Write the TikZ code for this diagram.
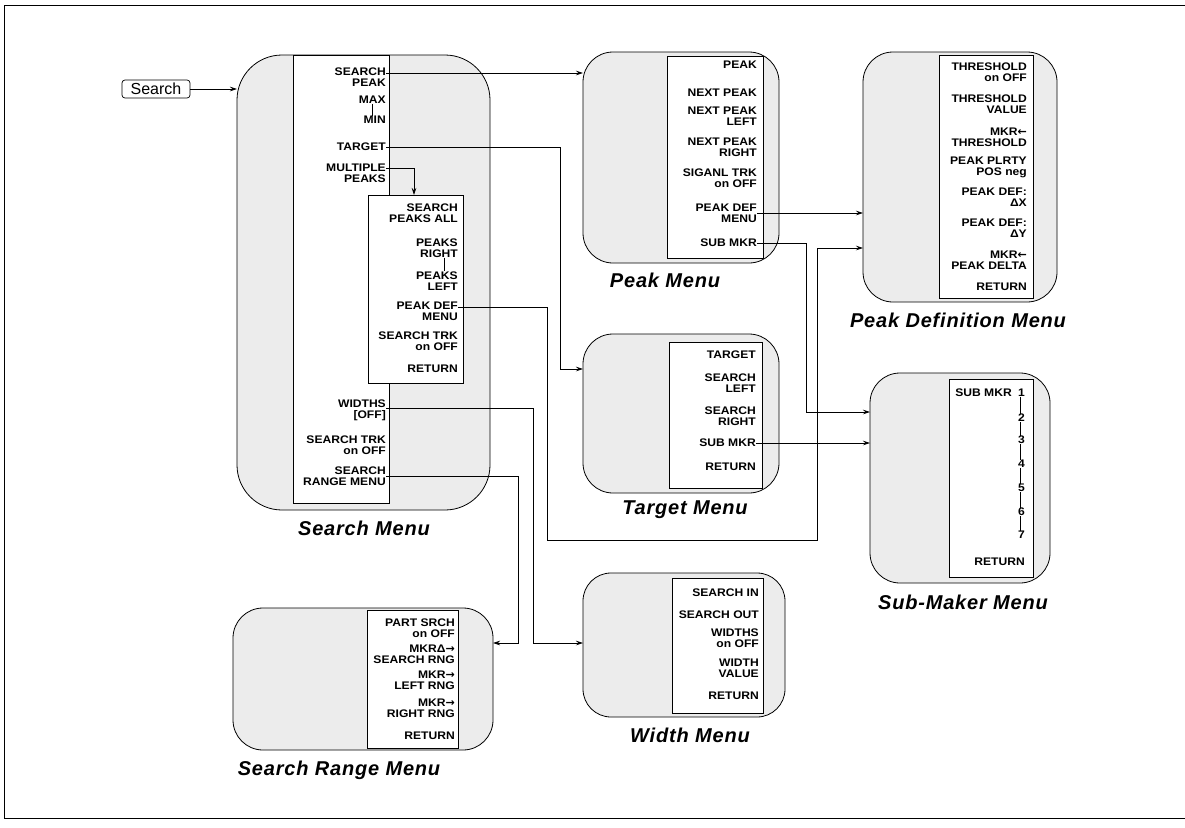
\documentclass[tikz,border=0pt]{standalone}
\usepackage{fontspec}
\setmainfont{Liberation Sans}
\newfontfamily\ttlfam{Liberation Sans}[LetterSpace=4.0]
\newfontfamily\lblfam{Liberation Sans}[FakeStretch=1.1]
\newfontfamily\arrf{DejaVu Sans}
\usetikzlibrary{arrows.meta,calc}
\newcommand\lblfont{\lblfam\fontsize{11}{11}\selectfont\bfseries}
\newcommand\ttlfont{\ttlfam\fontsize{20}{22}\selectfont\bfseries\itshape}
\newcommand\la{{\arrf\bfseries ←}}
\newcommand\ra{{\arrf\bfseries →}}
\begin{document}
\begin{tikzpicture}[x=1pt,y=-1pt,
  mbox/.style={draw, fill=gray!15, line width=0.8pt, rounded corners=#1, inner sep=0pt, outer sep=0pt},
  mbox/.default=30pt,
  panel/.style={draw, fill=white, line width=0.7pt, inner sep=0pt, outer sep=0pt},
  lbl/.style={font=\lblfont, align=right, inner sep=0pt, anchor=east},
  ttl/.style={font=\ttlfont, inner sep=0pt},
  conn/.style={draw, line width=0.7pt, -{Stealth[length=7pt,width=4.5pt]}},
  link/.style={draw, line width=0.6pt},
  btnstyle/.style={draw, rounded corners=3pt, line width=0.7pt, font=\fontsize{16}{16}\selectfont, inner sep=1.5pt, minimum width=68pt, minimum height=18pt},
]
\useasboundingbox (0,0) rectangle (1185,827);
% frame
\draw[line width=0.8pt] (1185,5) -- (4,5) -- (4,818) -- (1185,818);

% ---------- menu boxes ----------
\node[mbox=45pt, minimum width=253pt, minimum height=455pt] (smbox) at (363.5,282.5) {};
\node[mbox, minimum width=196pt, minimum height=211pt] (pmbox) at (681,157.5) {};
\node[mbox, minimum width=194pt, minimum height=250pt] (pdbox) at (960,177) {};
\node[mbox, minimum width=196pt, minimum height=159pt] (tmbox) at (681,413.5) {};
\node[mbox, minimum width=180pt, minimum height=210pt] (skbox) at (960,478) {};
\node[mbox, minimum width=260pt, minimum height=142pt] (srbox) at (363,679) {};
\node[mbox=28pt, minimum width=202pt, minimum height=144pt] (wmbox) at (684,645) {};

% ---------- softkey panels ----------
\node[panel, minimum width=96pt, minimum height=448pt] (smpan) at (341,279) {};
\node[panel, minimum width=95pt, minimum height=188pt] (nest) at (415.5,289) {};
\node[panel, minimum width=96pt, minimum height=202pt] (pmpan) at (715,157) {};
\node[panel, minimum width=94pt, minimum height=243pt] (pdpan) at (986,176.5) {};
\node[panel, minimum width=93pt, minimum height=146pt] (tmpan) at (715.5,415) {};
\node[panel, minimum width=84pt, minimum height=198pt] (skpan) at (991,478) {};
\node[panel, minimum width=91pt, minimum height=138pt] (srpan) at (412.5,679) {};
\node[panel, minimum width=91pt, minimum height=135pt] (wmpan) at (717.5,645.5) {};

% ---------- Search button ----------
\node[btnstyle] (btn) at (156,89) {Search};

% ---------- Search Menu labels ----------
\node[lbl] (sp)  at (386,77)  {SEARCH\\PEAK};
\node[lbl] (mx)  at (386,100) {MAX};
\node[lbl] (mn)  at (386,120) {MIN};
\node[lbl] (tg)  at (386,147) {TARGET};
\node[lbl] (mp)  at (386,173) {MULTIPLE\\PEAKS};
\node[lbl] (wd)  at (386,410) {WIDTHS\\{[OFF]}};
\node[lbl] (st)  at (386,445) {SEARCH TRK\\on OFF};
\node[lbl] (srm) at (386,476) {SEARCH\\RANGE MENU};
% nested (multiple peaks)
\node[lbl] (spa) at (458,213) {SEARCH\\PEAKS ALL};
\node[lbl] (pr)  at (458,248) {PEAKS\\RIGHT};
\node[lbl] (pl)  at (458,281) {PEAKS\\LEFT};
\node[lbl] (npd) at (458,311) {PEAK DEF\\MENU};
\node[lbl] (nst) at (458,341) {SEARCH TRK\\on OFF};
\node[lbl] (nrt) at (458,369) {RETURN};

% ---------- Peak Menu labels ----------
\node[lbl] (pk)   at (757,65)  {PEAK};
\node[lbl] (np)   at (757,93)  {NEXT PEAK};
\node[lbl] (npl)  at (757,116) {NEXT PEAK\\LEFT};
\node[lbl] (npr)  at (757,147) {NEXT PEAK\\RIGHT};
\node[lbl] (sig)  at (757,178) {SIGANL TRK\\on OFF};
\node[lbl] (pdm)  at (757,213) {PEAK DEF\\MENU};
\node[lbl] (psub) at (757,243) {SUB MKR};

% ---------- Peak Definition Menu labels ----------
\node[lbl] (th1) at (1027,72.5) {THRESHOLD\\on OFF};
\node[lbl] (th2) at (1027,104)  {THRESHOLD\\VALUE};
\node[lbl] (th3) at (1027,137)  {MKR\la\\THRESHOLD};
\node[lbl] (ppl) at (1027,167)  {PEAK PLRTY\\POS neg};
\node[lbl] (pdx) at (1027,197)  {PEAK DEF:\\ΔX};
\node[lbl] (pdy) at (1027,228)  {PEAK DEF:\\ΔY};
\node[lbl] (mpd) at (1027,260)  {MKR\la\\PEAK DELTA};
\node[lbl] (pdr) at (1027,287)  {RETURN};

% ---------- Target Menu labels ----------
\node[lbl] (tt)   at (756,355) {TARGET};
\node[lbl] (tsl)  at (756,383) {SEARCH\\LEFT};
\node[lbl] (tsr)  at (756,416) {SEARCH\\RIGHT};
\node[lbl] (tsub) at (756,443) {SUB MKR};
\node[lbl] (trt)  at (756,467) {RETURN};

% ---------- Sub-Maker Menu labels ----------
\node[lbl] (skm) at (1012,393) {SUB MKR};
\node[lbl] (d1) at (1025,393) {1};
\node[lbl] (d2) at (1025,418) {2};
\node[lbl] (d3) at (1025,440) {3};
\node[lbl] (d4) at (1025,464) {4};
\node[lbl] (d5) at (1025,488) {5};
\node[lbl] (d6) at (1025,512) {6};
\node[lbl] (d7) at (1025,535) {7};
\node[lbl] (skr) at (1025,562) {RETURN};

% ---------- Search Range Menu labels ----------
\node[lbl] (ps)  at (455,628) {PART SRCH\\on OFF};
\node[lbl] (msr) at (455,654) {MKRΔ\ra\\SEARCH RNG};
\node[lbl] (mlr) at (455,680) {MKR\ra\\LEFT RNG};
\node[lbl] (mrr) at (455,708) {MKR\ra\\RIGHT RNG};
\node[lbl] (srr) at (455,736) {RETURN};

% ---------- Width Menu labels ----------
\node[lbl] (wsi) at (759,593) {SEARCH IN};
\node[lbl] (wso) at (759,615) {SEARCH OUT};
\node[lbl] (wwo) at (759,638) {WIDTHS\\on OFF};
\node[lbl] (wwv) at (759,668) {WIDTH\\VALUE};
\node[lbl] (wrt) at (759,696) {RETURN};

% ---------- titles ----------
\node[ttl] (smt) at (364,528) {Search Menu};
\node[ttl] (pmt) at (665,280) {Peak Menu};
\node[ttl] (pdt) at (958,320) {Peak Definition Menu};
\node[ttl] (tmt) at (685,510) {Target Menu};
\node[ttl] (skt) at (963,602) {Sub-Maker Menu};
\node[ttl] (srt) at (339,770) {Search Range Menu};
\node[ttl] (wmt) at (690,735) {Width Menu};

% ---------- small group links ----------
\draw[link] (mx.south) -- (mx.south |- mn.north);
\draw[link] ([xshift=7pt]pr.south) -- ([xshift=7pt]pr.south |- pl.north);
\foreach \a/\b in {d1/d2,d2/d3,d3/d4,d4/d5,d5/d6,d6/d7}
  \draw[link] ([xshift=-1pt]\a.south) -- ([xshift=-1pt]\a.south |- \b.north);

% ---------- routing coordinates ----------
\coordinate (mpx) at (414,0);
\coordinate (tgturn) at (560,369);
\coordinate (r2) at (806,412);
\coordinate (r3a) at (547,540);
\coordinate (r3b) at (817,248);
\coordinate (r4) at (533,643);
\coordinate (r5) at (518,643);

% ---------- connectors ----------
\draw[conn] (btn.east) -- (btn.east -| smbox.west);
\draw[conn] ([yshift=4pt]sp.east) -- ([yshift=4pt]sp.east -| pmbox.west);
\draw[conn] (tg.east) -| (tgturn) -- (tgturn -| tmbox.west);
\draw[conn] ([yshift=5pt]mp.east) -| (mpx |- nest.north);
\draw[conn] (pdm.east) -- (pdm.east -| pdbox.west);
\draw[conn] (psub.east) -| (r2) -- (r2 -| skbox.west);
\draw[conn] (tsub.east) -- (tsub.east -| skbox.west);
\draw[conn] ([yshift=4pt]npd.east) -| (r3a) -| (r3b) -- (r3b -| pdbox.west);
\draw[conn] ([yshift=2pt]wd.east) -| (r4) -- (r4 -| wmbox.west);
\draw[conn] (srm.east) -| (r5) -- (r5 -| srbox.east);
\end{tikzpicture}
\end{document}
